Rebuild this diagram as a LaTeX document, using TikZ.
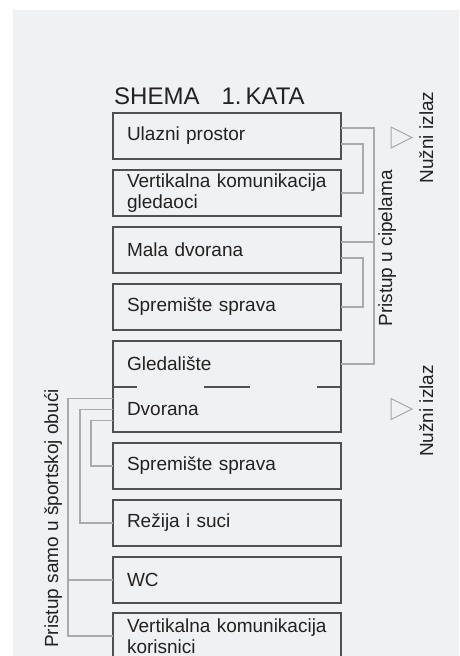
\documentclass[tikz,border=0pt]{standalone}
\usepackage{fontspec}
\setmainfont{Liberation Sans}
\usetikzlibrary{positioning}

\definecolor{podloga}{RGB}{240,241,243}
\definecolor{rub}{RGB}{80,80,80}
\definecolor{veza}{RGB}{170,170,170}
\definecolor{slova}{RGB}{34,34,34}

\tikzset{
  soba/.style={draw=rub, line width=1.2pt, outer sep=0pt, anchor=north west,
    minimum width=228pt, minimum height=46pt, text width=200pt,
    inner xsep=14pt, inner ysep=0pt, align=left, text=slova,
    font=\fontsize{19}{21}\selectfont},
  dio/.style={soba, draw=none},
  veza/.style={draw=veza, line width=1.4pt},
  natpis/.style={rotate=90, anchor=base, inner sep=0pt, text=slova,
    font=\fontsize{19}{21}\selectfont},
}

\begin{document}
\begin{tikzpicture}[x=1pt, y=-1pt]
\useasboundingbox (0,0) rectangle (459,656);
\clip (0,0) rectangle (459,656);
\fill[podloga] (13,10) rectangle (459,656);

\node[anchor=base west, inner sep=0pt, text=slova, font=\fontsize{24}{26}\selectfont] (naslov) at (114,104) {SHEMA\hspace{22pt}1.\hspace{4pt}KATA};

% prostorije
\node[soba] (ulaz) at (113,113) {Ulazni prostor};
\node[soba] (vert) at (113,170) {Vertikalna komunikacija\\gledaoci};
\node[soba] (mala) at (113,227) {Mala dvorana};
\node[soba] (sprem) at (113,284) {Spremište sprava};
\node[dio] (gled) at (113,341) {Gledalište};
\node[dio, minimum height=45pt] (dvor) at (113,387) {Dvorana};
\node[soba] (sprem2) at (113,443) {Spremište sprava};
\node[soba] (rez) at (113,500) {Režija i suci};
\node[soba] (wc) at (113,557) {WC};
\node[soba] (vkor) at (113,613) {Vertikalna komunikacija\\korisnici};

\draw[rub, line width=1.2pt] (gled.north west) rectangle (dvor.south east);
\draw[rub, line width=1.6pt] (gled.south west) -- ([xshift=24pt]gled.south west);
\draw[rub, line width=1.6pt] ([xshift=91pt]gled.south west) -- ([xshift=137pt]gled.south west);
\draw[rub, line width=1.6pt] ([xshift=-24pt]gled.south east) -- (gled.south east);

% pristup u cipelama
\draw[veza] ([yshift=8pt]ulaz.east) -- ++(33,0) |- (gled.east);
\draw[veza] ([yshift=8pt]mala.east) -- ++(33,0);
\draw[veza] ([yshift=-8pt]ulaz.east) -- ++(22,0) |- (vert.east);
\draw[veza] ([yshift=-8pt]mala.east) -- ++(22,0) |- (sprem.east);
\node[natpis] (cipele) at (392,248.5) {Pristup u cipelama};

% pristup u sportskoj obuci
\draw[veza] ([yshift=11pt]dvor.west) -- ++(-45,0) |- (vkor.west);
\draw[veza] (wc.west) -- ++(-45,0);
\draw[veza] (dvor.west) -- ++(-33,0) |- (rez.west);
\draw[veza] ([yshift=-11pt]dvor.west) -- ++(-22,0) |- (sprem2.west);
\node[natpis] (obuca) at (58,518.5) {Pristup samo u športskoj obući};

% izlazi
\draw[veza, line width=1pt] (391,127) -- (412,137.5) -- (391,148) -- cycle;
\node[natpis] (izlaz1) at (433,137.5) {Nužni izlaz};
\draw[veza, line width=1pt] (391,398.5) -- (412,409) -- (391,419.5) -- cycle;
\node[natpis] (izlaz2) at (433,411) {Nužni izlaz};
\end{tikzpicture}
\end{document}
